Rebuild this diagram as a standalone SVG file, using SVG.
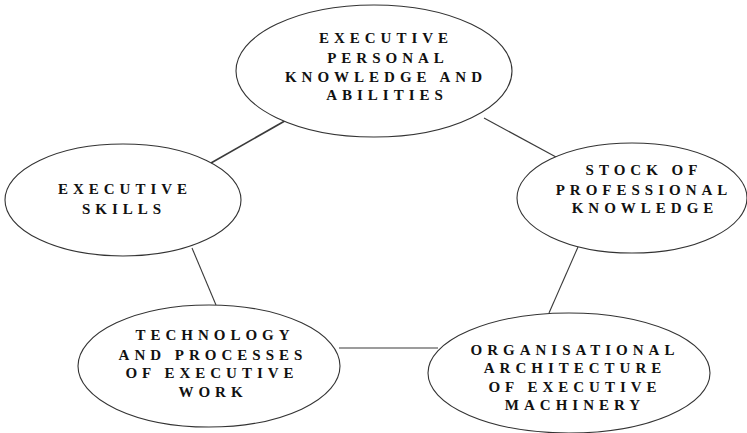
<svg xmlns="http://www.w3.org/2000/svg" width="747" height="433" viewBox="0 0 747 433">
  <style>
    .node ellipse { fill: #ffffff; stroke: #333333; stroke-width: 1.1; }
    .edges line { stroke: #3a3a3a; stroke-width: 1.1; }
    .label { font-family: "Liberation Serif", "Times New Roman", serif; font-weight: bold; font-size: 15px; letter-spacing: 5px; fill: #111111; text-anchor: middle; }
  </style>
  <rect width="747" height="433" fill="#ffffff"/>

  <g class="edges" id="connectors">
    <line x1="290" y1="118" x2="211" y2="163" style="stroke-width:1.7"/>
    <line x1="484" y1="118" x2="556" y2="157"/>
    <line x1="192" y1="248" x2="216" y2="305"/>
    <line x1="578" y1="247" x2="549" y2="313"/>
    <line x1="339" y1="348" x2="438" y2="348"/>
  </g>

  <g class="node" id="personal-knowledge">
    <ellipse cx="374" cy="71" rx="138" ry="66"/>
    <text class="label" x="386" y="43">EXECUTIVE</text>
    <text class="label" x="388" y="62.5">PERSONAL</text>
    <text class="label" x="386" y="82">KNOWLEDGE AND</text>
    <text class="label" x="387" y="100">ABILITIES</text>
  </g>

  <g class="node" id="executive-skills">
    <ellipse cx="123" cy="200" rx="118" ry="56"/>
    <text class="label" x="125" y="194">EXECUTIVE</text>
    <text class="label" x="124" y="214">SKILLS</text>
  </g>

  <g class="node" id="professional-knowledge">
    <ellipse cx="632" cy="198" rx="115" ry="55"/>
    <text class="label" x="644" y="175">STOCK OF</text>
    <text class="label" x="644" y="195">PROFESSIONAL</text>
    <text class="label" x="645" y="213">KNOWLEDGE</text>
  </g>

  <g class="node" id="technology-processes">
    <ellipse cx="209" cy="366" rx="131" ry="61"/>
    <text class="label" x="215" y="340">TECHNOLOGY</text>
    <text class="label" x="213" y="360">AND PROCESSES</text>
    <text class="label" x="212" y="378">OF EXECUTIVE</text>
    <text class="label" x="213" y="397">WORK</text>
  </g>

  <g class="node" id="organisational-architecture">
    <ellipse cx="569" cy="373" rx="141" ry="60"/>
    <text class="label" x="575" y="355">ORGANISATIONAL</text>
    <text class="label" x="575" y="373">ARCHITECTURE</text>
    <text class="label" x="575" y="392">OF EXECUTIVE</text>
    <text class="label" x="575" y="410">MACHINERY</text>
  </g>
</svg>
